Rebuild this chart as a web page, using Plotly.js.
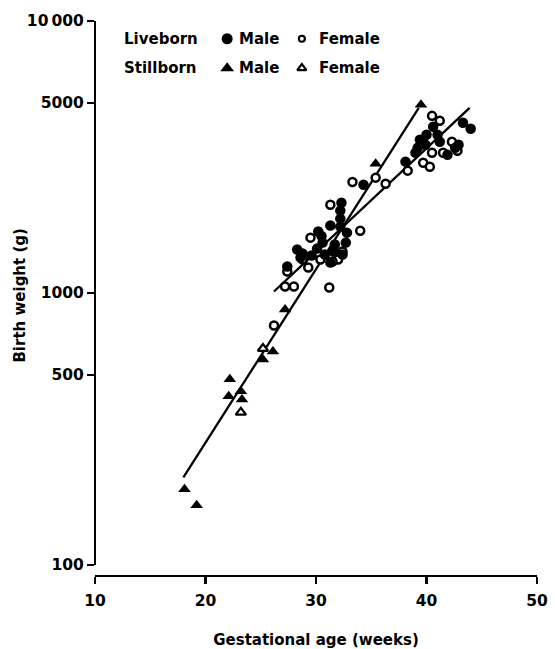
<!DOCTYPE html>
<html>
<head>
<meta charset="utf-8">
<script src="https://cdn.plot.ly/plotly-3.0.1.min.js"></script>
<style>html,body{margin:0;padding:0;background:#fff;}#chart{width:555px;height:649px;}</style>
</head>
<body>
<div id="chart"></div>
<script>
// Liveborn male (filled circles): gestational age (weeks), birth weight (g)
const liveMaleAge = [28.3, 28.8, 27.4, 30.2, 30.6, 30.1, 31.3, 31.3, 32.2, 32.2, 32.2, 32.3, 32.4, 32.8, 31.7, 30.8, 29.6, 34.3,
  28.6, 30.5, 31.6, 32.7,
  38.1, 39.0, 39.4, 39.2, 39.9, 40.6, 41.0, 41.2, 41.9, 42.6, 42.9, 43.3, 44.0, 40.0];
const liveMaleWt = [1445, 1396, 1251, 1682, 1532, 1456, 1770, 1294, 2009, 1877, 1754, 2148, 1385, 1667, 1507, 1385, 1373, 2500,
  1350, 1620, 1420, 1532,
  3040, 3278, 3660, 3420, 3508, 4085, 3817, 3598, 3224, 3420, 3508, 4225, 4015, 3817];
// Liveborn female (open circles)
const liveFemaleAge = [26.2, 27.2, 28.0, 27.4, 29.3, 29.5, 28.8, 30.4, 32.0, 32.4, 31.2, 31.3, 34.0, 33.3, 35.4, 36.3,
  38.3, 39.7, 40.3, 40.5, 41.2, 41.5, 42.3, 42.8, 40.5, 31.5];
const liveFemaleWt = [760, 1057, 1057, 1199, 1241, 1598, 1327, 1327, 1327, 1420, 1047, 2112, 1695, 2560, 2655, 2523,
  2817, 3013, 2911, 4480, 4296, 3278, 3598, 3335, 3278, 1305];
// Stillborn male (filled triangles)
const stillMaleAge = [18.1, 19.2, 22.2, 22.1, 23.2, 23.3, 26.1, 25.2, 27.2, 35.4, 39.5];
const stillMaleWt = [190, 166, 482, 417, 435, 406, 610, 570, 870, 2985, 4920];
// Stillborn female (open triangles)
const stillFemaleAge = [23.2, 25.2];
const stillFemaleWt = [364, 625];
// Fitted lines (end points)
const stillLineAge = [18.0, 39.3];
const stillLineWt = [210, 4795];
const liveLineAge = [26.2, 43.9];
const liveLineWt = [1013, 4795];
// Axis ticks
const xTicks = [10, 20, 30, 40, 50];
const yTicks = [100, 500, 1000, 5000, 10000];
const yTickText = ['100', '500', '1000', '5000', '10\u2009000'];
// Key
const keyRows = ['Liveborn', 'Stillborn'];
const keyLabels = ['Male', 'Female'];

const FONT = {family: 'DejaVu Sans, sans-serif', size: 15, color: '#000', weight: 'bold'};
const TICKFONT = {family: 'DejaVu Sans, sans-serif', size: 15.5, color: '#000', weight: 'bold'};
const line = {color: '#000', width: 2.3};

const traces = [
  {x: stillLineAge, y: stillLineWt, mode: 'lines', line: line, hoverinfo: 'skip'},
  {x: liveLineAge, y: liveLineWt, mode: 'lines', line: line, hoverinfo: 'skip'},
  {x: liveFemaleAge, y: liveFemaleWt, mode: 'markers',
   marker: {symbol: 'circle', size: 8, color: '#fff', line: {color: '#000', width: 2.5}}},
  {x: liveMaleAge, y: liveMaleWt, mode: 'markers',
   marker: {symbol: 'circle', size: 10.5, color: '#000', line: {width: 0}}},
  {x: stillFemaleAge, y: stillFemaleWt, mode: 'markers',
   marker: {symbol: 'triangle-up', size: 9, color: '#fff', line: {color: '#000', width: 2.2}}},
  {x: stillMaleAge, y: stillMaleWt, mode: 'markers',
   marker: {symbol: 'triangle-up', size: 11, color: '#000', line: {width: 0}}},
];

// Key markers on a hidden helper axis pair
const keyX = [0.299, 0.468];
const keyY = [0.968, 0.915];
traces.push({x: [keyX[0]], y: [keyY[0]], xaxis: 'x2', yaxis: 'y2', mode: 'markers',
  marker: {symbol: 'circle', size: 11, color: '#000'}, hoverinfo: 'skip'});
traces.push({x: [keyX[1]], y: [keyY[0]], xaxis: 'x2', yaxis: 'y2', mode: 'markers',
  marker: {symbol: 'circle', size: 6, color: '#fff', line: {color: '#000', width: 2.2}}, hoverinfo: 'skip'});
traces.push({x: [keyX[0]], y: [keyY[1]], xaxis: 'x2', yaxis: 'y2', mode: 'markers',
  marker: {symbol: 'triangle-up', size: 12, color: '#000'}, hoverinfo: 'skip'});
traces.push({x: [keyX[1]], y: [keyY[1]], xaxis: 'x2', yaxis: 'y2', mode: 'markers',
  marker: {symbol: 'triangle-up', size: 8, color: '#fff', line: {color: '#000', width: 2.2}}, hoverinfo: 'skip'});

const annotations = [];
keyRows.forEach((r, i) => {
  annotations.push({xref: 'paper', yref: 'paper', x: 0.061, y: keyY[i], xanchor: 'left', yanchor: 'middle',
    text: r, showarrow: false, font: FONT});
  annotations.push({xref: 'paper', yref: 'paper', x: 0.321, y: keyY[i], xanchor: 'left', yanchor: 'middle',
    text: keyLabels[0], showarrow: false, font: FONT});
  annotations.push({xref: 'paper', yref: 'paper', x: 0.502, y: keyY[i], xanchor: 'left', yanchor: 'middle',
    text: keyLabels[1], showarrow: false, font: FONT});
});
// y-axis title
annotations.push({xref: 'paper', yref: 'paper', x: -0.170, y: 0.505, xanchor: 'center', yanchor: 'middle',
  textangle: -90, text: 'Birth weight (g)', showarrow: false, font: FONT});

const layout = {
  width: 555, height: 649,
  margin: {l: 95, r: 18, t: 21, b: 73},
  paper_bgcolor: '#fff', plot_bgcolor: 'rgba(0,0,0,0)',
  showlegend: false,
  font: FONT,
  xaxis: {
    range: [10, 50], domain: [0, 1], anchor: 'free', position: 0,
    tickvals: xTicks, ticks: 'outside', ticklen: 7, tickwidth: 2.3, tickcolor: '#000',
    showline: true, linewidth: 2.3, linecolor: '#000', showgrid: false, zeroline: false,
    tickfont: TICKFONT, ticklabelstandoff: 3,
    title: {text: 'Gestational age (weeks)', font: FONT, standoff: 25}
  },
  yaxis: {
    type: 'log', range: [2, 4], domain: [0.0198, 1], anchor: 'free', position: 0,
    tickvals: yTicks, ticktext: yTickText, ticks: 'outside', ticklen: 7, tickwidth: 2.3, tickcolor: '#000',
    showline: true, linewidth: 2.3, linecolor: '#000', showgrid: false, zeroline: false,
    tickfont: TICKFONT
  },
  xaxis2: {range: [0, 1], domain: [0, 1], anchor: 'y2', visible: false, fixedrange: true},
  yaxis2: {range: [0, 1], domain: [0, 1], anchor: 'x2', visible: false, fixedrange: true},
  annotations: annotations
};

Plotly.newPlot('chart', traces, layout, {displayModeBar: false, staticPlot: true});
</script>
</body>
</html>
